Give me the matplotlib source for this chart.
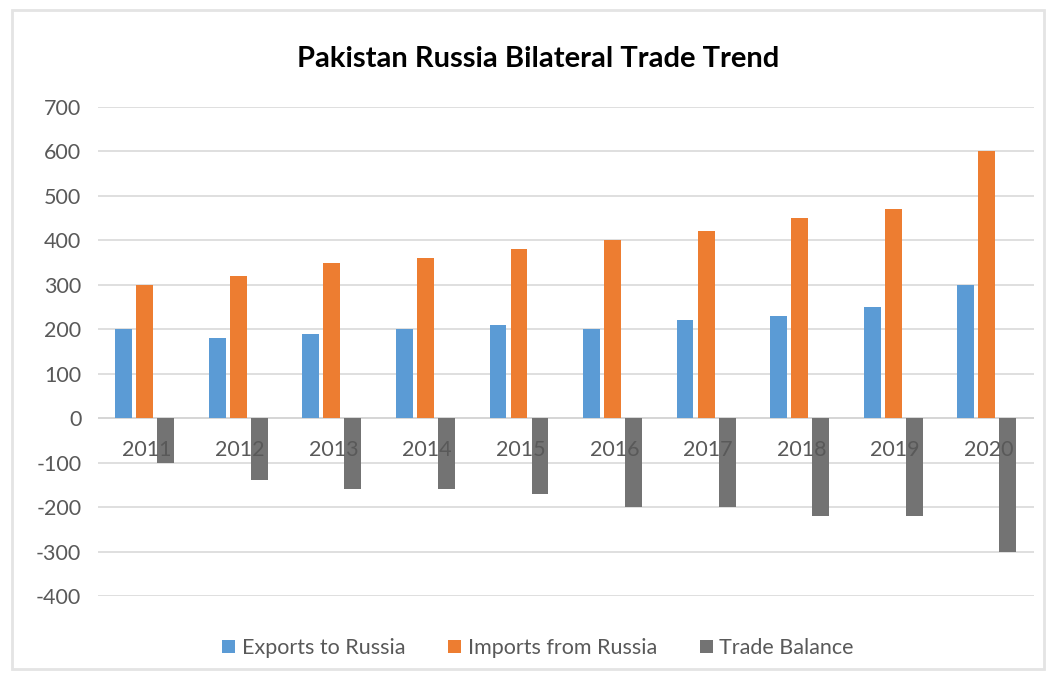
import numpy as np
import matplotlib.pyplot as plt
from matplotlib.patches import Rectangle

years = ['2011', '2012', '2013', '2014', '2015', '2016', '2017', '2018', '2019', '2020']
exports = [200, 180, 190, 200, 210, 200, 220, 230, 250, 300]
imports = [300, 320, 350, 360, 380, 400, 420, 450, 470, 600]
balance = [-100, -140, -160, -160, -170, -200, -200, -220, -220, -300]
yticks = [-400, -300, -200, -100, 0, 100, 200, 300, 400, 500, 600, 700]

plt.rcParams['font.family'] = ['Lato', 'DejaVu Sans']
plt.rcParams['axes.unicode_minus'] = False

fig = plt.figure(figsize=(10.59, 6.83), dpi=100)
fig.patches.append(Rectangle((0.011, 0.02), 0.975, 0.965, transform=fig.transFigure,
                             fill=False, edgecolor='#e4e4e4', linewidth=2))
ax = fig.add_axes([0.0925, 0.1274, 0.8835, 0.7159])

x = np.arange(len(years))
w = 0.18
step = 0.225
ax.bar(x - step, exports, w, color='#5b9bd5', label='Exports to Russia', zorder=3)
ax.bar(x, imports, w, color='#ed7d31', label='Imports from Russia', zorder=3)
ax.bar(x + step, balance, w, color='#737373', label='Trade Balance', zorder=3)

ax.set_xlim(-0.5, len(years) - 0.5)
ax.set_ylim(-400, 700)
ax.set_yticks(yticks)
ax.yaxis.grid(True, color='#d9d9d9', linewidth=1.2, zorder=0)
ax.axhline(0, color='#bfbfbf', linewidth=1.2, zorder=1)
for s in ax.spines.values():
    s.set_visible(False)
ax.tick_params(axis='y', length=0, labelsize=15.5, labelcolor='#595959', pad=12)
ax.set_xticks([])

# category labels sit just under the zero line
for xi, yr in zip(x, years):
    ax.text(xi + 0.02, -72, yr, ha='center', va='center', fontsize=15.5, color='#595959', zorder=4)

fig.text(0.508, 0.913, 'Pakistan Russia Bilateral Trade Trend', ha='center', va='center',
         fontsize=21, fontweight='bold', color='black')

fig.legend(loc='center', bbox_to_anchor=(0.508, 0.051), ncol=3, frameon=False,
           fontsize=15.5, handlelength=0.6, handleheight=0.6, handletextpad=0.3,
           columnspacing=2.0, labelcolor='#595959')

plt.savefig('out.png', dpi=100)
